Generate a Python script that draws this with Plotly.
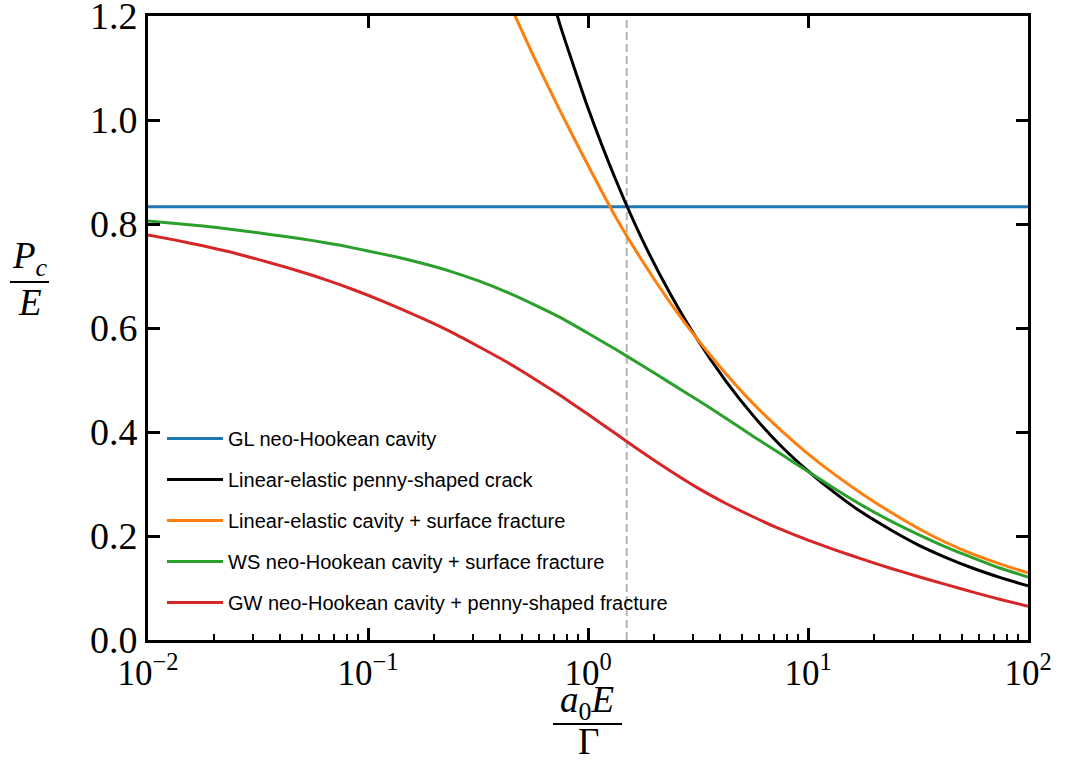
import plotly.graph_objects as go

# ---------------- data ----------------
x_gl = [0.01, 100]
y_gl = [0.8333, 0.8333]

x_crack = [0.631, 0.75, 1.0, 1.334, 1.778, 2.371, 3.162, 4.217, 5.623, 7.499, 10.0,
           13.34, 17.78, 23.71, 31.62, 42.17, 56.23, 74.99, 100.0]
y_crack = [1.29, 1.18, 1.023, 0.886, 0.767, 0.665, 0.576, 0.499, 0.432, 0.374, 0.325,
           0.282, 0.244, 0.212, 0.183, 0.159, 0.138, 0.120, 0.104]

x_le = [0.3162, 0.4217, 0.5623, 0.75, 1.0, 1.334, 1.778, 2.371, 3.162, 4.217, 5.623,
        7.499, 10.0, 13.34, 17.78, 23.71, 31.62, 42.17, 56.23, 74.99, 100.0]
y_le = [1.364, 1.241, 1.125, 1.016, 0.913, 0.814, 0.727, 0.648, 0.577, 0.513, 0.455,
        0.404, 0.358, 0.317, 0.280, 0.246, 0.215, 0.188, 0.165, 0.146, 0.129]

x_ws = [0.01, 0.01334, 0.01778, 0.02371, 0.03162, 0.04217, 0.05623, 0.07499, 0.1,
        0.1334, 0.1778, 0.2371, 0.3162, 0.4217, 0.5623, 0.7499, 1.0, 1.334, 1.778,
        2.371, 3.162, 4.217, 5.623, 7.499, 10.0, 13.34, 17.78, 23.71, 31.62, 42.17,
        56.23, 74.99, 100.0]
y_ws = [0.806, 0.801, 0.796, 0.790, 0.783, 0.776, 0.768, 0.759, 0.748,
        0.737, 0.724, 0.709, 0.691, 0.670, 0.646, 0.620, 0.590, 0.559, 0.527,
        0.494, 0.461, 0.427, 0.392, 0.358, 0.324, 0.290, 0.258, 0.229, 0.203, 0.179,
        0.158, 0.138, 0.121]

x_gw = [0.01, 0.01334, 0.01778, 0.02371, 0.03162, 0.04217, 0.05623, 0.07499, 0.1,
        0.1334, 0.1778, 0.2371, 0.3162, 0.4217, 0.5623, 0.7499, 1.0, 1.334, 1.778,
        2.371, 3.162, 4.217, 5.623, 7.499, 10.0, 13.34, 17.78, 23.71, 31.62, 42.17,
        56.23, 74.99, 100.0]
y_gw = [0.779, 0.769, 0.758, 0.746, 0.732, 0.717, 0.701, 0.683, 0.663,
        0.641, 0.618, 0.593, 0.565, 0.536, 0.504, 0.470, 0.434, 0.397, 0.360,
        0.325, 0.292, 0.263, 0.237, 0.213, 0.192, 0.173, 0.155, 0.138, 0.122, 0.107,
        0.092, 0.078, 0.065]

x_marker = [1.5, 1.5]
y_marker = [0.0, 1.2]

names = [
    "GL neo-Hookean cavity",
    "Linear-elastic penny-shaped crack",
    "Linear-elastic cavity + surface fracture",
    "WS neo-Hookean cavity + surface fracture",
    "GW neo-Hookean cavity + penny-shaped fracture",
]
colors = ["#1f77b4", "#000000", "#ff7f0e", "#2ca02c", "#d62728"]

x_tickvals = [0.01, 0.1, 1, 10, 100]
x_ticktext = ["10<sup>\u22122</sup>", "10<sup>\u22121</sup>", "10<sup>0</sup>", "10<sup>1</sup>", "10<sup>2</sup>"]
y_tickvals = [0.0, 0.2, 0.4, 0.6, 0.8, 1.0, 1.2]
y_ticktext = ["0.0", "0.2", "0.4", "0.6", "0.8", "1.0", "1.2"]
x_minor = [m * 10.0 ** e for e in range(-2, 2) for m in range(2, 10)]

# ---------------- figure ----------------
W, H = 1066, 764
L, R, T, B = 148, 38, 16, 124
pw, ph = W - L - R, H - T - B

def px(xp):
    return (xp - L) / pw

def py(yp):
    return (H - B - yp) / ph

fig = go.Figure()

fig.add_trace(go.Scatter(x=x_marker, y=y_marker, mode="lines", showlegend=False,
                         line=dict(color="#b4b4b4", width=2, dash="8px,4px"), hoverinfo="skip"))

series = [(x_gl, y_gl), (x_crack, y_crack), (x_le, y_le), (x_ws, y_ws), (x_gw, y_gw)]
for i, ((xs, ys), name, c) in enumerate(zip(series, names, colors)):
    fig.add_trace(go.Scatter(x=xs, y=ys, mode="lines", name=name, legendgroup=f"g{i}",
                             line=dict(color=c, width=3, shape="spline", smoothing=0.5)))

# invisible trace on the top axis so its ticks are drawn
fig.add_trace(go.Scatter(x=x_gl, y=y_gl, xaxis="x2", yaxis="y", mode="lines", opacity=0,
                         showlegend=False, hoverinfo="skip", line=dict(width=1)))

xtickfont = dict(family="Liberation Serif", size=35, color="black")
ytickfont = dict(family="Liberation Serif", size=38, color="black")

fig.update_layout(
    width=W, height=H,
    margin=dict(l=L, r=R, t=T, b=B, autoexpand=False),
    paper_bgcolor="white", plot_bgcolor="white",
    showlegend=True,
    legend=dict(x=px(162), y=py(622), xanchor="left", yanchor="bottom",
                bgcolor="rgba(0,0,0,0)", borderwidth=0, tracegroupgap=12,
                itemwidth=56,
                font=dict(family="Liberation Sans", size=20, color="black")),
    xaxis=dict(type="log", range=[-2, 2], showgrid=False, zeroline=False, automargin=False,
               showline=True, linecolor="black", linewidth=3, mirror=True,
               ticks="inside", ticklen=12, tickwidth=2.5, tickcolor="black",
               tickvals=x_tickvals, ticktext=x_ticktext, tickfont=xtickfont,
               ticklabeloverflow="allow",
               minor=dict(ticks="inside", ticklen=6, tickwidth=1.5, tickcolor="black",
                          tickmode="array", tickvals=x_minor, showgrid=False)),
    xaxis2=dict(type="log", range=[-2, 2], overlaying="x", side="top", anchor="y",
                showgrid=False, zeroline=False, showline=False, automargin=False,
                ticks="inside", ticklen=12, tickwidth=2.5, tickcolor="black",
                tickvals=x_tickvals, showticklabels=False),
    yaxis=dict(range=[0, 1.2], showgrid=False, zeroline=False, automargin=False,
               showline=True, linecolor="black", linewidth=3, mirror="ticks",
               ticks="inside", ticklen=12, tickwidth=2.5, tickcolor="black",
               tickvals=y_tickvals, ticktext=y_ticktext, tickfont=ytickfont,
               ticklabeloverflow="allow"),
)

mathfont = dict(family="Liberation Serif", size=37, color="black")

# y-axis title: P_c / E
fig.add_annotation(x=px(30), y=py(284), xref="paper", yref="paper", xanchor="center", yanchor="bottom",
                   text="<i>P</i><sub><i>c</i></sub>", showarrow=False, font=mathfont)
fig.add_shape(type="line", xref="paper", yref="paper", x0=px(10), x1=px(49), y0=py(282), y1=py(282),
              line=dict(color="black", width=2))
fig.add_annotation(x=px(30), y=py(280), xref="paper", yref="paper", xanchor="center", yanchor="top",
                   text="<i>E</i>", showarrow=False, font=mathfont)

# x-axis title: a_0 E / Gamma
fig.add_annotation(x=px(587), y=py(728), xref="paper", yref="paper", xanchor="center", yanchor="bottom",
                   text="<i>a</i><sub>0</sub><i>E</i>", showarrow=False, font=mathfont)
fig.add_shape(type="line", xref="paper", yref="paper", x0=px(553), x1=px(622), y0=py(724), y1=py(724),
              line=dict(color="black", width=2))
fig.add_annotation(x=px(588), y=py(719), xref="paper", yref="paper", xanchor="center", yanchor="top",
                   text="\u0393", showarrow=False, font=mathfont)

fig.write_html("out.html")
